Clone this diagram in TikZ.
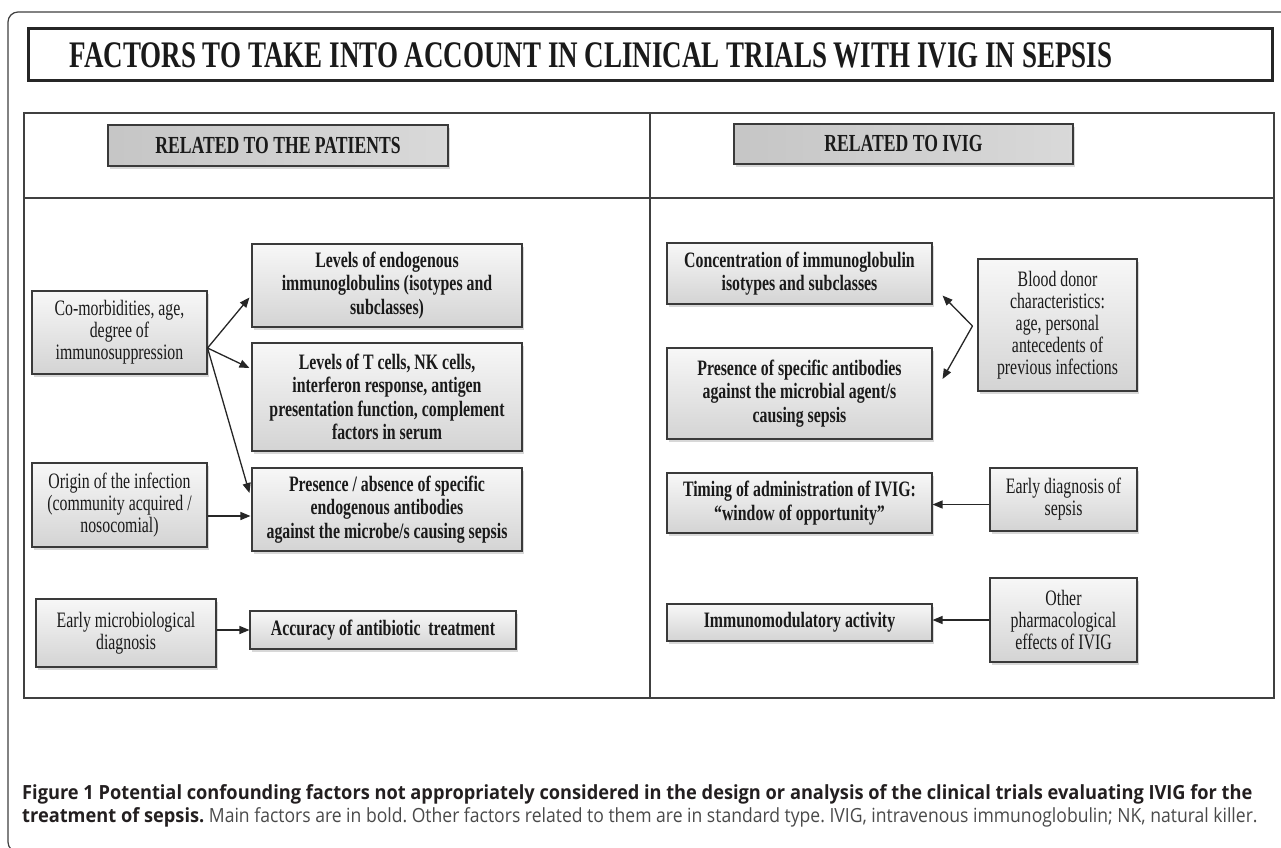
\documentclass[tikz,border=0pt]{standalone}
\usepackage{fontspec}
\setmainfont{Liberation Serif}[FakeStretch=0.72]
\newfontfamily\capregfont{Open Sans}[FakeStretch=0.90]
\newfontfamily\capboldfont{Open Sans}[FakeStretch=0.935]
\usetikzlibrary{shadows,arrows.meta,calc}
\definecolor{bordc}{HTML}{3A3A3A}
\definecolor{txtc}{HTML}{1A1A1A}
\definecolor{capc}{HTML}{231F20}
\definecolor{capreg}{HTML}{4A4A4A}
\frenchspacing
\begin{document}
\begin{tikzpicture}[x=1pt,y=-1pt,
  box/.style={draw=bordc, line width=1.1pt, top color=gray!6, bottom color=gray!34,
    drop shadow={shadow xshift=1.5pt, shadow yshift=-2.5pt, fill=black!30},
    align=center, inner sep=1pt, text=txtc},
  mainf/.style={box, font=\bfseries\fontsize{22}{23.5}\selectfont},
  minorf/.style={box, font=\fontsize{22}{22}\selectfont},
  hdr/.style={draw=bordc, line width=1.1pt, left color=gray!45, middle color=gray!58, right color=gray!30,
    drop shadow={shadow xshift=1.5pt, shadow yshift=-2.5pt, fill=black!30},
    align=center, text=txtc, font=\bfseries\fontsize{24.5}{26}\selectfont},
  conn/.style={-{Triangle[length=10pt,width=8pt]}, line width=1.3pt, black!85},
  frame/.style={draw=black!75, line width=1.2pt}
]
\clip (0,0) rectangle (1281,847);
\useasboundingbox (0,0) rectangle (1281,847);
\fill[white] (0,0) rectangle (1281,847);

% outer frame
\draw[frame, rounded corners=10pt] (1300,12) -- (8,12) -- (8,852) -- (40,852);

% title
\draw[draw=black!85, line width=3pt] (28,28) rectangle (1272,80);
\node[font=\bfseries\fontsize{37.5}{39}\selectfont, text=txtc] (title) at (591,55)
  {FACTORS TO TAKE INTO ACCOUNT IN CLINICAL TRIALS WITH IVIG IN SEPSIS};

% table
\draw[frame, line width=1.1pt] (24,113) rectangle (1274,698);
\draw[frame, line width=1.1pt] (650,113) -- (650,698);
\draw[frame, line width=1.1pt] (24,198) -- (1274,198);

% headers
\node[hdr, minimum width=340pt, minimum height=41pt] (hpat) at (278,145.5) {RELATED TO THE PATIENTS};
\node[hdr, minimum width=339pt, minimum height=40pt] (hivig) at (903.5,144) {RELATED TO IVIG};

% left column
\node[minorf, minimum width=175pt, minimum height=83pt] (comorb) at (119.5,332.5)
  {Co-morbidities, age,\\degree of\\immunosuppression};
\node[minorf, minimum width=175pt, minimum height=84pt] (origin) at (119.5,505)
  {Origin of the infection\\(community acquired /\\nosocomial)};
\node[minorf, minimum width=180pt, minimum height=68pt] (earlymb) at (126,633)
  {Early microbiological\\diagnosis};
\node[mainf, minimum width=270pt, minimum height=83pt] (levelsIg) at (387,285.5)
  {Levels of endogenous\\immunoglobulins (isotypes and\\subclasses)};
\node[mainf, minimum width=270pt, minimum height=108pt] (levelsT) at (387,397)
  {Levels of T cells, NK cells,\\interferon response, antigen\\presentation function, complement\\factors in serum};
\node[mainf, minimum width=270pt, minimum height=83pt] (presabs) at (387,509.5)
  {Presence / absence of specific\\endogenous antibodies\\against the microbe/s causing sepsis};
\node[mainf, minimum width=266pt, minimum height=38pt] (accuracy) at (383,630)
  {Accuracy of antibiotic~ treatment};

% right column
\node[mainf, minimum width=265pt, minimum height=61pt] (conc) at (799.5,273.5)
  {Concentration of immunoglobulin\\isotypes and subclasses};
\node[minorf, minimum width=159pt, minimum height=132pt] (blood) at (1057.5,325)
  {Blood donor\\characteristics:\\age, personal\\antecedents of\\previous infections};
\node[mainf, minimum width=265pt, minimum height=91pt] (presspec) at (799.5,393.5)
  {Presence of specific antibodies\\against the microbial agent/s\\causing sepsis};
\node[mainf, minimum width=265pt, minimum height=60pt] (timing) at (799.5,503)
  {Timing of administration of IVIG:\\“window of opportunity”};
\node[minorf, minimum width=147pt, minimum height=63pt] (earlydx) at (1063.5,499.5)
  {Early diagnosis of\\sepsis};
\node[mainf, minimum width=265pt, minimum height=37pt] (immuno) at (799.5,622.5)
  {Immunomodulatory activity};
\node[minorf, minimum width=147pt, minimum height=84pt] (other) at (1063.5,620)
  {Other\\pharmacological\\effects of IVIG};

% connectors left
\coordinate (cs) at ([yshift=-15.5pt]comorb.east);
\draw[conn] (cs) -- ([shift={(-2pt,-12pt)}]levelsIg.west);
\draw[conn] (cs) -- ([shift={(-2pt,29pt)}]levelsT.west);
\draw[conn] (cs) -- ([shift={(-2pt,16.5pt)}]presabs.west);
\draw[conn] ([yshift=-11pt]origin.east) -- ([shift={(-1pt,-6.5pt)}]presabs.west);
\draw[conn] (earlymb.east |- accuracy.west) -- (accuracy.west);

% connectors right
\coordinate (bs) at ([shift={(-5pt,-1pt)}]blood.west);
\draw[conn] (bs) -- ([shift={(10pt,9pt)}]conc.south east);
\draw[conn] (bs) -- ([shift={(10pt,14.5pt)}]presspec.east);
\draw[conn] ([yshift=-5pt]earlydx.west) -- ([yshift=-5pt]earlydx.west -| timing.east);
\draw[conn] (other.west) -- (other.west -| immuno.east);

% caption
\node[anchor=base west, inner sep=0pt, font=\capboldfont\bfseries\fontsize{19.5}{21}\selectfont, text=capc] (cap1) at (22,799)
  {Figure 1 Potential confounding factors not appropriately considered in the design or analysis of the clinical trials evaluating IVIG for the};
\node[anchor=base west, inner sep=0pt, font=\capregfont\fontsize{19.5}{21}\selectfont, text=capreg] (cap2) at (22,822)
  {\textcolor{capc}{\capboldfont\bfseries treatment of sepsis.} Main factors are in bold. Other factors related to them are in standard type. IVIG, intravenous immunoglobulin; NK, natural killer.};
\end{tikzpicture}
\end{document}
